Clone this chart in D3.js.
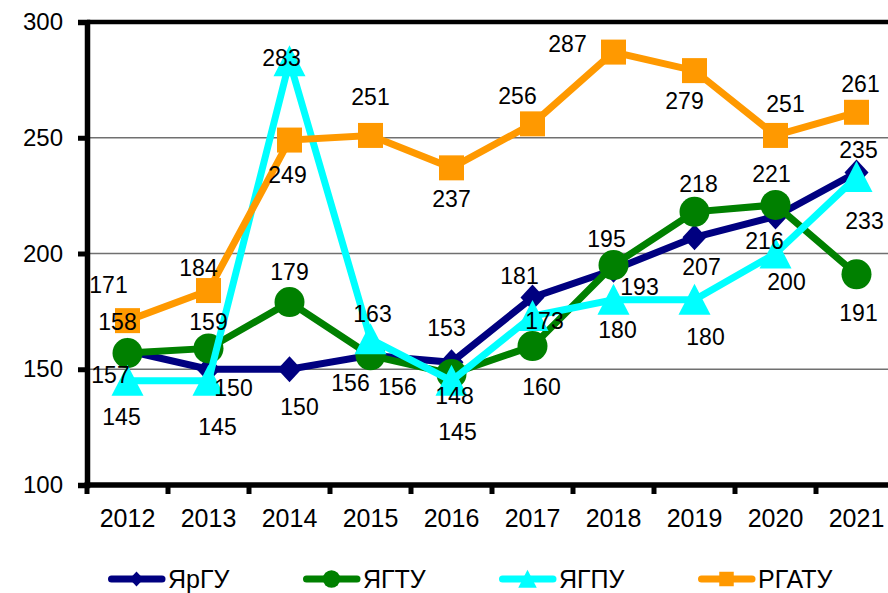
<!DOCTYPE html>
<html>
<head>
<meta charset="utf-8">
<script src="https://cdn.jsdelivr.net/npm/d3@7"></script>
<style>
  html, body { margin: 0; padding: 0; background: #fff; }
  svg { display: block; font-family: "Liberation Sans", Arial, sans-serif; }
</style>
</head>
<body>
<div id="chart"></div>
<script>
// --- Data ---
const years = ["2012", "2013", "2014", "2015", "2016", "2017", "2018", "2019", "2020", "2021"];
const seriesNames = ["ЯрГУ", "ЯГТУ", "ЯГПУ", "РГАТУ"];
const yarguValues = [158, 150, 150, 156, 153, 181, 193, 207, 216, 235];
const yagtuValues = [157, 159, 179, 156, 148, 160, 195, 218, 221, 191];
const yagpuValues = [145, 145, 283, 163, 145, 173, 180, 180, 200, 233];
const rgatuValues = [171, 184, 249, 251, 237, 256, 287, 279, 251, 261];
const yTicks = [100, 150, 200, 250, 300];

// label placement (offset of label centre from its point, px)
const yarguLabelOff = [[-10,-29],[25,19],[10,38],[-20,28],[-5,-34],[-13,-22],[26,17],[7,30],[-11,24],[2,-23]];
const yagtuLabelOff = [[-17,22],[0,-26],[0,-30],[27,32],[3,22],[9,41],[-7,-26],[4,-28],[-4,-31],[2,39]];
const yagpuLabelOff = [[-6,36],[9,46],[-8,-3],[2,-25],[6,51],[12,5],[4,30],[11,37],[11,28],[8,44]];
const rgatuLabelOff = [[-19,-36],[-10,-23],[-2,35],[0,-38],[0,31],[-15,-28],[-46,-8],[-10,30],[10,-31],[4,-28]];

const width = 888, height = 593;
const plot = { left: 87, top: 22, right: 897, bottom: 485 };

const svg = d3.select("#chart").append("svg")
  .attr("width", width)
  .attr("height", height);

// --- Scales ---
const xScale = d3.scaleBand().domain(years).range([plot.left, plot.right]).padding(0);
const xc = d => xScale(d) + xScale.bandwidth() / 2;
const yScale = d3.scaleLinear().domain([100, 300]).range([plot.bottom, plot.top]);

// marker shapes
const markerPath = {
  diamond: s => `M0,${-13*s}L${12*s},0L0,${13*s}L${-12*s},0Z`,
  circle: s => { const r = 15 * s; return `M${-r},0A${r},${r} 0 1,0 ${r},0A${r},${r} 0 1,0 ${-r},0Z`; },
  triangle: s => `M0,${-16*s}L${16*s},${15*s}L${-16*s},${15*s}Z`,
  square: s => { const h = 12.5 * s; return `M${-h},${-h}H${h}V${h}H${-h}Z`; }
};

const series = [
  { name: seriesNames[0], values: yarguValues, offs: yarguLabelOff, color: "#000080", marker: "diamond" },
  { name: seriesNames[1], values: yagtuValues, offs: yagtuLabelOff, color: "#008000", marker: "circle" },
  { name: seriesNames[2], values: yagpuValues, offs: yagpuLabelOff, color: "#00FFFF", marker: "triangle" },
  { name: seriesNames[3], values: rgatuValues, offs: rgatuLabelOff, color: "#FF9900", marker: "square" }
];

// --- Grid lines ---
svg.append("g")
  .selectAll("line")
  .data(yTicks.filter(t => t > 100 && t < 300))
  .join("line")
  .attr("x1", plot.left).attr("x2", plot.right)
  .attr("y1", d => yScale(d)).attr("y2", d => yScale(d))
  .attr("stroke", "#707070")
  .attr("stroke-width", 1.3);

// top border of the plot area
svg.append("line")
  .attr("x1", plot.left).attr("x2", plot.right)
  .attr("y1", plot.top).attr("y2", plot.top)
  .attr("stroke", "#000").attr("stroke-width", 4.5);

// --- Axes ---
svg.append("g")
  .attr("transform", `translate(${plot.left},0)`)
  .call(d3.axisLeft(yScale).tickValues(yTicks).tickSize(9).tickPadding(15))
  .call(g => g.select(".domain").attr("stroke-width", 5.5))
  .call(g => g.selectAll(".tick line").attr("stroke-width", 5))
  .call(g => g.selectAll(".tick text")
    .attr("font-size", "24px").attr("fill", "#000")
    .attr("font-family", "Liberation Sans, Arial, sans-serif"));

// bottom axis: ticks between categories, labels at centres
const xAxis = svg.append("g")
  .attr("transform", `translate(0,${plot.bottom})`);
xAxis.append("line")
  .attr("x1", plot.left - 2.5).attr("x2", plot.right)
  .attr("stroke", "#000").attr("stroke-width", 5.5);
xAxis.selectAll(".xtick")
  .data(years)
  .join("line")
  .attr("class", "xtick")
  .attr("x1", d => xScale(d)).attr("x2", d => xScale(d))
  .attr("y1", 0).attr("y2", 9)
  .attr("stroke", "#000").attr("stroke-width", 5);
xAxis.selectAll(".xlabel")
  .data(years)
  .join("text")
  .attr("class", "xlabel")
  .attr("x", d => xc(d))
  .attr("y", 42)
  .attr("text-anchor", "middle")
  .attr("font-size", "25px")
  .attr("fill", "#000")
  .text(d => d);

// --- Series ---
const line = d3.line()
  .x((v, i) => xc(years[i]))
  .y(v => yScale(v));

series.forEach(s => {
  const g = svg.append("g");
  g.append("path")
    .attr("d", line(s.values))
    .attr("fill", "none")
    .attr("stroke", s.color)
    .attr("stroke-width", 7)
    .attr("stroke-linejoin", "miter")
    .attr("stroke-miterlimit", 4);
  g.selectAll(".marker")
    .data(s.values)
    .join("path")
    .attr("class", "marker")
    .attr("transform", (v, i) => `translate(${xc(years[i])},${yScale(v)})`)
    .attr("d", markerPath[s.marker](1))
    .attr("fill", s.color);
});

// --- Data labels ---
series.forEach(s => {
  svg.append("g")
    .selectAll("text")
    .data(s.values)
    .join("text")
    .attr("x", (v, i) => xc(years[i]) + s.offs[i][0])
    .attr("y", (v, i) => yScale(v) + s.offs[i][1])
    .attr("dy", "0.35em")
    .attr("text-anchor", "middle")
    .attr("font-size", "23px")
    .attr("fill", "#000")
    .text(v => v);
});

// --- Legend ---
const legendX = [108, 303, 499, 698];
const legendY = 579;
const legend = svg.append("g");
series.forEach((s, i) => {
  const item = legend.append("g").attr("transform", `translate(${legendX[i]},${legendY})`);
  item.append("line")
    .attr("x1", 3.5).attr("x2", 54)
    .attr("stroke", s.color)
    .attr("stroke-width", 7)
    .attr("stroke-linecap", "round");
  item.append("path")
    .attr("transform", "translate(28.5,0)")
    .attr("d", markerPath[s.marker](0.58))
    .attr("fill", s.color);
  item.append("text")
    .attr("x", 60)
    .attr("y", 0)
    .attr("dy", "0.35em")
    .attr("font-size", "25px")
    .attr("fill", "#000")
    .text(s.name);
});
</script>
</body>
</html>
